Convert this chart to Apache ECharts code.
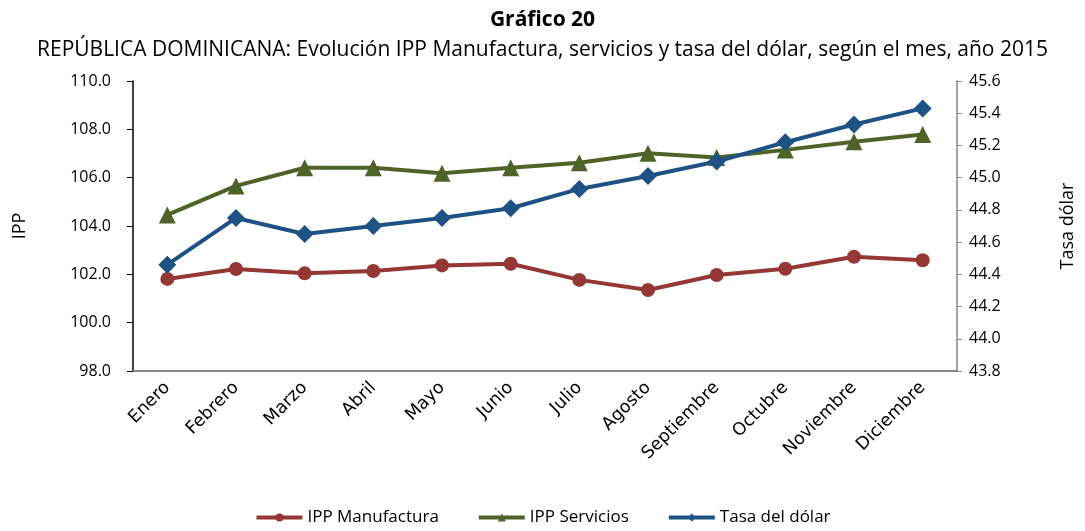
<!DOCTYPE html>
<html>
<head>
<meta charset="utf-8">
<script src="https://cdn.jsdelivr.net/npm/echarts@6/dist/echarts.min.js"></script>
<style>html,body{margin:0;padding:0;background:#fff;}#c{width:1085px;height:531px;}</style>
</head>
<body>
<div id="c"></div>
<script>
var categories = ['Enero','Febrero','Marzo','Abril','Mayo','Junio','Julio','Agosto','Septiembre','Octubre','Noviembre','Diciembre'];
var ippManufactura = [101.81, 102.22, 102.04, 102.14, 102.37, 102.44, 101.77, 101.35, 101.97, 102.23, 102.73, 102.58];
var ippServicios = [104.46, 105.66, 106.41, 106.41, 106.18, 106.41, 106.62, 107.01, 106.83, 107.15, 107.49, 107.79];
var tasaDolar = [44.46, 44.75, 44.65, 44.70, 44.75, 44.81, 44.93, 45.01, 45.10, 45.22, 45.33, 45.43];
var seriesNames = ['IPP Manufactura','IPP Servicios','Tasa del dólar'];

var chart = echarts.init(document.getElementById('c'), null, {renderer:'canvas'});
var tickFont = {fontFamily:'Open Sans', fontSize:16, color:'#000'};
chart.setOption({
  animation:false,
  backgroundColor:'#fff',
  title:[
    {text:'Gráfico 20', left:'center', top:5, textStyle:{fontFamily:'Open Sans', fontWeight:'bold', fontSize:21, color:'#000'}},
    {text:'REPÚBLICA DOMINICANA: Evolución IPP Manufactura, servicios y tasa del dólar, según el mes, año 2015', left:'center', top:35, textStyle:{fontFamily:'Open Sans', fontWeight:'normal', fontSize:21, color:'#000'}}
  ],
  legend:{
    bottom:0, left:'center', itemWidth:46, itemHeight:10, itemGap:38,
    lineStyle:{width:4},
    textStyle:{fontFamily:'Open Sans', fontSize:17, color:'#000'},
    data:seriesNames
  },
  grid:{left:133, right:117, top:81, bottom:160, containLabel:false},
  xAxis:{
    type:'category', data:categories, boundaryGap:true,
    axisLine:{lineStyle:{color:'#868686', width:2}},
    axisTick:{show:false},
    axisLabel:{rotate:45, fontFamily:'DejaVu Sans', fontSize:17.5, color:'#000', margin:14, interval:0}
  },
  yAxis:[
    {type:'value', min:98, max:110, interval:2, position:'left',
     name:'IPP', nameLocation:'middle', nameGap:104, nameRotate:90,
     nameTextStyle:{fontFamily:'Open Sans', fontSize:18, color:'#000'},
     axisLine:{show:true, lineStyle:{color:'#000', width:1.5}},
     axisTick:{show:true, length:6, lineStyle:{color:'#000'}},
     splitLine:{show:false},
     axisLabel:Object.assign({formatter:function(v){return v.toFixed(1);}, margin:22}, tickFont)},
    {type:'value', min:43.8, max:45.6, interval:0.2, position:'right',
     name:'Tasa dólar', nameLocation:'middle', nameGap:102, nameRotate:90,
     nameTextStyle:{fontFamily:'Open Sans', fontSize:18, color:'#000'},
     axisLine:{show:true, lineStyle:{color:'#868686', width:1.5}},
     axisTick:{show:true, length:5, lineStyle:{color:'#868686'}},
     splitLine:{show:false},
     axisLabel:Object.assign({formatter:function(v){return v.toFixed(1);}, margin:12}, tickFont)}
  ],
  series:[
    {name:seriesNames[0], type:'line', yAxisIndex:0, data:ippManufactura, symbol:'circle', symbolSize:14,
     lineStyle:{color:'#953735', width:4}, itemStyle:{color:'#953735'}},
    {name:seriesNames[1], type:'line', yAxisIndex:0, data:ippServicios, symbol:'triangle', symbolSize:17,
     lineStyle:{color:'#4F6228', width:4}, itemStyle:{color:'#4F6228'}},
    {name:seriesNames[2], type:'line', yAxisIndex:1, data:tasaDolar, symbol:'diamond', symbolSize:18,
     lineStyle:{color:'#1F5284', width:4}, itemStyle:{color:'#1F5284'}}
  ]
});
</script>
</body>
</html>
